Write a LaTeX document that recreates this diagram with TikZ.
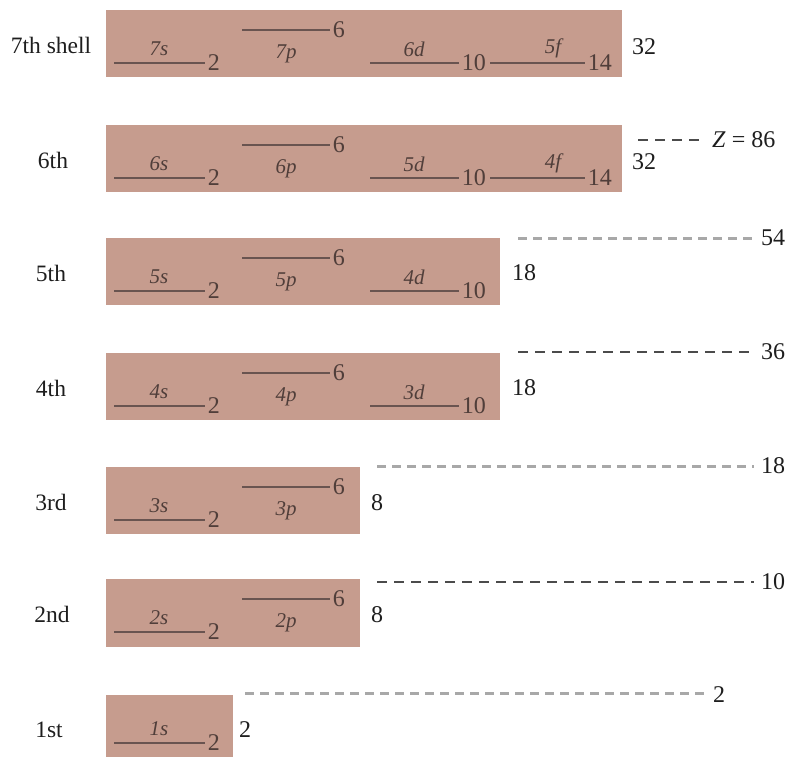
\documentclass[tikz,border=0pt]{standalone}
\usepackage{fontspec}
\setmainfont{Liberation Serif}
\usetikzlibrary{positioning}
\definecolor{boxfill}{RGB}{198,156,142}
\definecolor{lvlline}{RGB}{105,84,80}
\definecolor{orbtext}{RGB}{80,62,58}
\definecolor{mydark}{RGB}{30,30,30}
\definecolor{dashlight}{RGB}{168,168,168}
\definecolor{dashdark}{RGB}{75,75,75}
\tikzset{
  shellbox/.style={fill=boxfill, draw=none},
  lvl/.style={line width=2.6pt, color=lvlline},
  cnt/.style={right, inner sep=1.5pt, text=orbtext, font=\fontsize{24}{24}\selectfont},
  orb/.style={inner sep=0pt, text=orbtext, font=\fontsize{21}{21}\selectfont\itshape},
  shlabel/.style={inner sep=0pt, text=mydark, font=\fontsize{23.5}{24}\selectfont},
  total/.style={right, inner sep=1pt, text=mydark, font=\fontsize{24}{24}\selectfont},
  lightdash/.style={line width=3pt, color=dashlight, dash pattern=on 9pt off 6pt, shorten >=6pt},
  darkdash/.style={line width=2pt, color=dashdark, dash pattern=on 10pt off 7pt, shorten >=6pt}
}

\begin{document}
\begin{tikzpicture}[x=1pt, y=-1pt]
  \useasboundingbox (0,0) rectangle (790,756);

  % Shell boxes
  \fill[shellbox] (106,10)  rectangle (622,77);
  \fill[shellbox] (106,125) rectangle (622,192);
  \fill[shellbox] (106,238) rectangle (500,305);
  \fill[shellbox] (106,353) rectangle (500,420);
  \fill[shellbox] (106,467) rectangle (360,534);
  \fill[shellbox] (106,579) rectangle (360,647);
  \fill[shellbox] (106,695) rectangle (233,762);

  % 7th shell
  \node[shlabel] (sh7) at (51,45) {7th shell};
  \draw[lvl] (114,63) -- (205,63) node[cnt] (c7s) {2};
  \draw[lvl] (242,30) -- (330,30) node[cnt] (c7p) {6};
  \draw[lvl] (370,63) -- (459,63) node[cnt] (c6d) {10};
  \draw[lvl] (490,63) -- (585,63) node[cnt] (c5f) {14};
  \node[orb] (o7s) at (159,49) {7s};
  \node[orb] (o7p) at (286,54) {7p};
  \node[orb] (o6d) at (414,49) {6d};
  \node[orb] (o5f) at (553,48) {5f};
  \node[total] (t7) at (631,47) {32};

  % 6th shell
  \node[shlabel] (sh6) at (53,160) {6th};
  \draw[lvl] (114,178) -- (205,178) node[cnt] (c6s) {2};
  \draw[lvl] (242,145) -- (330,145) node[cnt] (c6p) {6};
  \draw[lvl] (370,178) -- (459,178) node[cnt] (c5d) {10};
  \draw[lvl] (490,178) -- (585,178) node[cnt] (c4f) {14};
  \node[orb] (o6s) at (159,164) {6s};
  \node[orb] (o6p) at (286,169) {6p};
  \node[orb] (o5d) at (414,164) {5d};
  \node[orb] (o4f) at (553,163) {4f};
  \node[total] (t6) at (631,162) {32};

  % 5th shell
  \node[shlabel] (sh5) at (51,273) {5th};
  \draw[lvl] (114,291) -- (205,291) node[cnt] (c5s) {2};
  \draw[lvl] (242,258) -- (330,258) node[cnt] (c5p) {6};
  \draw[lvl] (370,291) -- (459,291) node[cnt] (c4d) {10};
  \node[orb] (o5s) at (159,277) {5s};
  \node[orb] (o5p) at (286,282) {5p};
  \node[orb] (o4d) at (414,277) {4d};
  \node[total] (t5) at (511,273) {18};

  % 4th shell
  \node[shlabel] (sh4) at (51,388) {4th};
  \draw[lvl] (114,406) -- (205,406) node[cnt] (c4s) {2};
  \draw[lvl] (242,373) -- (330,373) node[cnt] (c4p) {6};
  \draw[lvl] (370,406) -- (459,406) node[cnt] (c3d) {10};
  \node[orb] (o4s) at (159,392) {4s};
  \node[orb] (o4p) at (286,397) {4p};
  \node[orb] (o3d) at (414,392) {3d};
  \node[total] (t4) at (511,388) {18};

  % 3rd shell
  \node[shlabel] (sh3) at (51,502) {3rd};
  \draw[lvl] (114,520) -- (205,520) node[cnt] (c3s) {2};
  \draw[lvl] (242,487) -- (330,487) node[cnt] (c3p) {6};
  \node[orb] (o3s) at (159,506) {3s};
  \node[orb] (o3p) at (286,511) {3p};
  \node[total] (t3) at (370,503) {8};

  % 2nd shell
  \node[shlabel] (sh2) at (52,614) {2nd};
  \draw[lvl] (114,632) -- (205,632) node[cnt] (c2s) {2};
  \draw[lvl] (242,599) -- (330,599) node[cnt] (c2p) {6};
  \node[orb] (o2s) at (159,618) {2s};
  \node[orb] (o2p) at (286,623) {2p};
  \node[total] (t2) at (370,615) {8};

  % 1st shell
  \node[shlabel] (sh1) at (49,730) {1st};
  \draw[lvl] (114,743) -- (205,743) node[cnt] (c1s) {2};
  \node[orb] (o1s) at (159,729) {1s};
  \node[total] (t1) at (238,730) {2};

  % Closed-shell totals
  \coordinate (d86) at (638,140);
  \coordinate (d54) at (518,238);
  \coordinate (d36) at (518,352);
  \coordinate (d18) at (377,466);
  \coordinate (d10) at (377,582);
  \coordinate (d2)  at (245,693);
  \node[total] (z86) at (711,140) {\textit{Z} = 86};
  \node[total] (z54) at (760,238) {54};
  \node[total] (z36) at (760,352) {36};
  \node[total] (z18) at (760,466) {18};
  \node[total] (z10) at (760,582) {10};
  \node[total] (z2)  at (712,695) {2};
  \draw[darkdash]  (d86) -- (z86.west);
  \draw[lightdash] (d54) -- (z54.west);
  \draw[darkdash]  (d36) -- (z36.west);
  \draw[lightdash] (d18) -- (z18.west);
  \draw[darkdash]  (d10) -- (z10.west);
  \draw[lightdash] (d2)  -- (z2.west |- d2);
\end{tikzpicture}
\end{document}
